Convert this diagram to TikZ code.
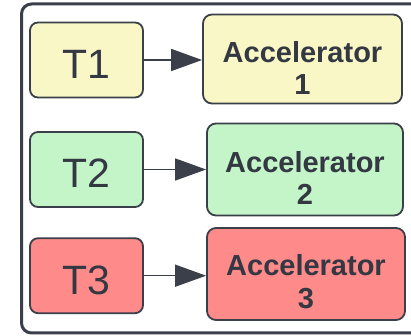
\documentclass[tikz,border=0pt]{standalone}
\usepackage{fontspec}
\setmainfont{Liberation Sans}
\usetikzlibrary{arrows.meta}
\definecolor{edge}{HTML}{3A3F4A}
\definecolor{txt}{HTML}{333842}
\definecolor{yel}{HTML}{FAF7C6}
\definecolor{grn}{HTML}{C3F5C8}
\definecolor{rd}{HTML}{FF8A8A}
\tikzset{
  tbox/.style={draw=edge, line width=1.8pt, rounded corners=8pt, minimum width=113pt, minimum height=75pt, inner sep=0pt},
  abox/.style={draw=edge, line width=1.8pt, rounded corners=9pt, inner sep=0pt},
  ttext/.style={anchor=base, inner sep=0pt, font=\fontsize{41}{44}\selectfont, text=txt},
  atext/.style={anchor=base, inner sep=0pt, font=\bfseries\fontsize{29}{32}\selectfont, text=txt},
  conn/.style={draw=edge, line width=1.5pt, -{Triangle[length=31pt,width=22pt]}}
}
\begin{document}
\begin{tikzpicture}[x=1pt,y=1pt]
\useasboundingbox (0,0) rectangle (411,336);
\clip (0,0) rectangle (411,336);
\draw[draw=edge, line width=3pt, rounded corners=10pt] (21.5,3) rectangle (425,332);
% row 1
\node[tbox, fill=yel] (t1) at (86.5,276) {};
\node[ttext] (t1l) at ([yshift=-18.5pt]t1.center) {T1};
\node[abox, fill=yel, minimum width=199pt, minimum height=89pt] (a1) at (302.5,277) {};
\node[atext] (a1l) at ([yshift=-3.5pt]a1.center) {Accelerator};
\node[atext] (a1n) at ([yshift=-35.5pt]a1.center) {1};
% row 2
\node[tbox, fill=grn] (t2) at (86.5,166.5) {};
\node[ttext] (t2l) at ([yshift=-18.5pt]t2.center) {T2};
\node[abox, fill=grn, minimum width=196pt, minimum height=92pt] (a2) at (305,166.5) {};
\node[atext] (a2l) at ([yshift=-3.5pt]a2.center) {Accelerator};
\node[atext] (a2n) at ([yshift=-35.5pt]a2.center) {2};
% row 3
\node[tbox, fill=rd] (t3) at (86.5,60.3) {};
\node[ttext] (t3l) at ([yshift=-18.5pt]t3.center) {T3};
\node[abox, fill=rd, minimum width=198pt, minimum height=92pt] (a3) at (306,62) {};
\node[atext] (a3l) at ([yshift=-2pt]a3.center) {Accelerator};
\node[atext] (a3n) at ([yshift=-35pt]a3.center) {3};
% connectors
\draw[conn] (t1.east) -- (t1.east -| a1.west);
\draw[conn] (t2.east) -- (t2.east -| a2.west);
\draw[conn] (t3.east) -- (t3.east -| a3.west);
\end{tikzpicture}
\end{document}
